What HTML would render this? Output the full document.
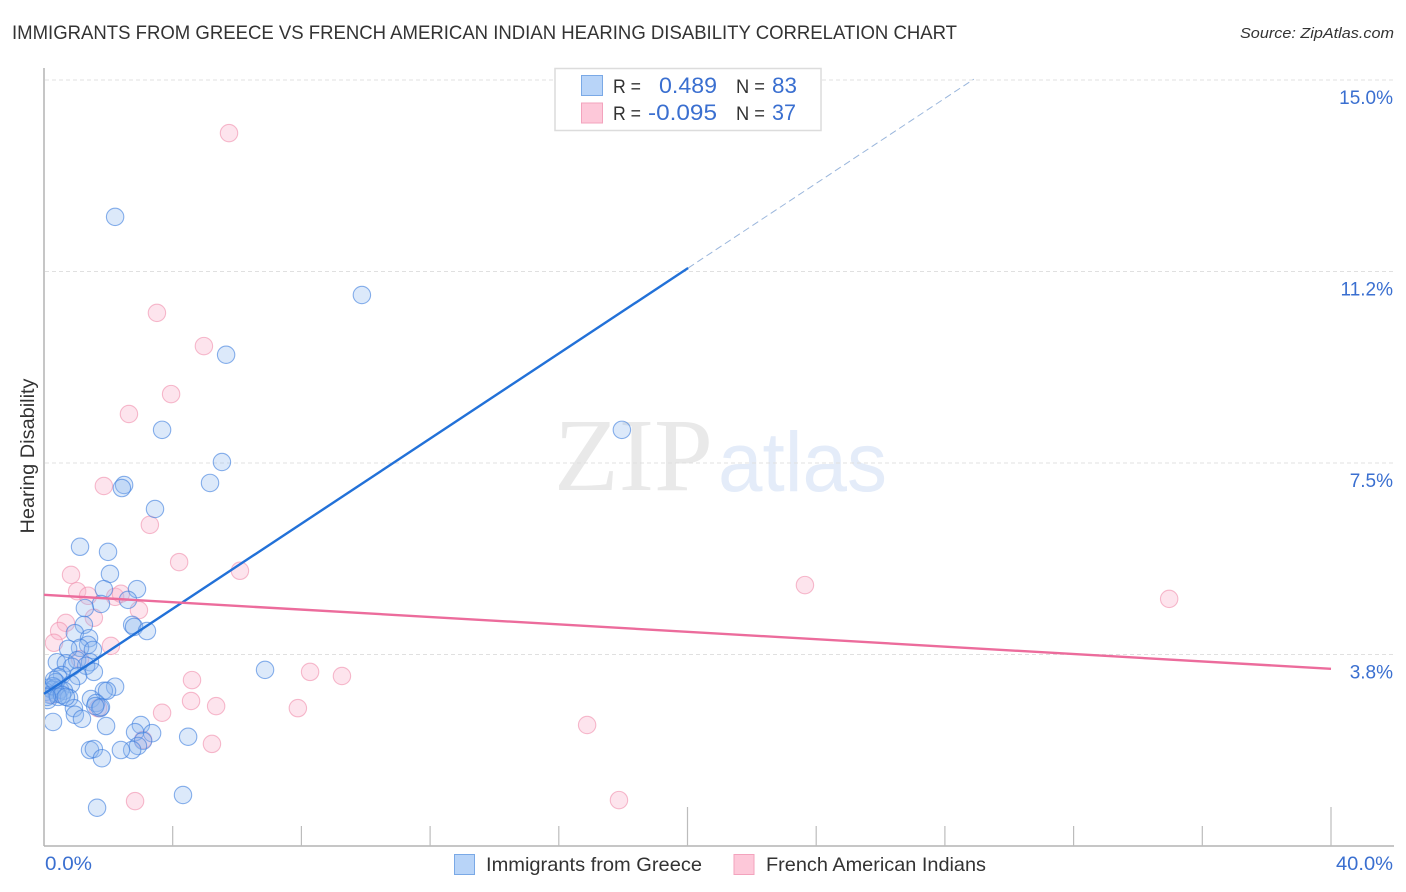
<!DOCTYPE html>
<html lang="en">
<head>
<meta charset="utf-8">
<title>Immigrants from Greece vs French American Indian Hearing Disability Correlation Chart</title>
<style>
html,body{margin:0;padding:0;background:#fff;width:1406px;height:892px;overflow:hidden}
svg{display:block;font-family:"Liberation Sans",sans-serif}
</style>
</head>
<body>
<svg id="chart" width="1406" height="892" viewBox="0 0 1406 892" xmlns="http://www.w3.org/2000/svg">
  <defs>
    <clipPath id="plot-clip"><rect x="45" y="60" width="1349" height="786"/></clipPath>
  </defs>
  <text x="12" y="39" font-size="19.5" fill="#333" textLength="945" lengthAdjust="spacingAndGlyphs">IMMIGRANTS FROM GREECE VS FRENCH AMERICAN INDIAN HEARING DISABILITY CORRELATION CHART</text>
  <text x="1394" y="38" font-size="15" font-style="italic" fill="#333" text-anchor="end" textLength="154" lengthAdjust="spacingAndGlyphs">Source: ZipAtlas.com</text>

  <g>
    <text x="554" y="490" font-family="'Liberation Serif',serif" font-size="104" fill="#e9e9e9" textLength="159" lengthAdjust="spacingAndGlyphs">ZIP</text>
    <text x="718" y="491" font-size="84" fill="#e4ecf9" textLength="169" lengthAdjust="spacingAndGlyphs">atlas</text>
  </g>

  <g id="grid"></g>
  <g id="axes">
    <line x1="44" y1="68" x2="44" y2="846" stroke="#b4b4b4" stroke-width="1.5"/>
    <line x1="44" y1="846" x2="1394" y2="846" stroke="#b4b4b4" stroke-width="1.5"/>
  </g>
  <g id="xticks"></g>
  <g id="ylabels"></g>
  <g id="xlabels"></g>
  <text transform="translate(34,456) rotate(-90)" font-size="19" fill="#333" text-anchor="middle" textLength="155" lengthAdjust="spacingAndGlyphs">Hearing Disability</text>

  <g id="marks" clip-path="url(#plot-clip)"></g>
  <g id="trends"></g>

  <g>
    <rect x="555" y="68.500" width="266" height="62" fill="#fff" stroke="#dcdcdc" stroke-width="1.500"/>
    <rect x="581.500" y="75.500" width="21" height="20" fill="#b8d4f8" stroke="#7aa9e6"/>
    <rect x="581.500" y="103" width="21" height="20" fill="#fdc8d9" stroke="#f3a3bd"/>
    <text x="613" y="93" font-size="19.500" fill="#333" textLength="28" lengthAdjust="spacingAndGlyphs">R =</text>
    <text x="659" y="93" font-size="22" fill="#3a6fd0" textLength="58" lengthAdjust="spacingAndGlyphs">0.489</text>
    <text x="736" y="93" font-size="19.500" fill="#333" textLength="29" lengthAdjust="spacingAndGlyphs">N =</text>
    <text x="772" y="93" font-size="22" fill="#3a6fd0" textLength="25" lengthAdjust="spacingAndGlyphs">83</text>
    <text x="613" y="120" font-size="19.500" fill="#333" textLength="28" lengthAdjust="spacingAndGlyphs">R =</text>
    <text x="648" y="120" font-size="22" fill="#3a6fd0" textLength="69" lengthAdjust="spacingAndGlyphs">-0.095</text>
    <text x="736" y="120" font-size="19.500" fill="#333" textLength="29" lengthAdjust="spacingAndGlyphs">N =</text>
    <text x="772" y="120" font-size="22" fill="#3a6fd0" textLength="24" lengthAdjust="spacingAndGlyphs">37</text>
  </g>

  <g>
    <g>
      <rect x="454.500" y="854.500" width="20" height="20" fill="#b8d4f8" stroke="#7aa9e6"/>
      <text x="486" y="871" font-size="19.500" fill="#333" textLength="216" lengthAdjust="spacingAndGlyphs">Immigrants from Greece</text>
    </g>
    <g>
      <rect x="734" y="854.500" width="20" height="20" fill="#fdc8d9" stroke="#f3a3bd"/>
      <text x="766" y="871" font-size="19.500" fill="#333" textLength="220" lengthAdjust="spacingAndGlyphs">French American Indians</text>
    </g>
  </g>
</svg>
<script>
const greeceX = [2.21,9.88,5.66,3.67,17.96,5.53,2.49,2.42,5.16,3.45,1.12,1.99,2.05,1.86,2.89,2.61,1.77,1.27,1.24,2.74,2.80,3.20,0.96,1.40,1.37,1.12,0.75,1.52,0.40,0.68,1.03,1.43,1.31,0.87,1.55,6.87,0.56,0.44,1.06,0.84,0.37,0.12,2.21,1.86,1.96,0.34,0.25,0.50,0.06,0.62,0.19,0.40,0.78,0.12,1.46,1.62,1.74,0.93,0.96,1.18,1.93,0.28,3.01,2.83,3.36,4.48,3.08,2.92,2.74,2.39,1.43,1.55,1.80,4.32,1.65,0.28,0.44,0.56,0.09,0.68,0.31,1.77,1.59];
const greeceY = [12.32,10.79,9.62,8.15,8.15,7.52,7.07,7.01,7.11,6.60,5.86,5.76,5.33,5.03,5.03,4.82,4.74,4.66,4.33,4.33,4.29,4.21,4.17,4.07,3.94,3.88,3.86,3.84,3.60,3.58,3.64,3.60,3.53,3.51,3.41,3.45,3.35,3.31,3.33,3.17,3.21,3.10,3.12,3.04,3.04,3.10,3.06,3.06,3.02,3.04,2.96,2.98,2.90,2.86,2.88,2.80,2.70,2.70,2.57,2.49,2.35,2.43,2.37,2.23,2.21,2.14,2.06,1.96,1.88,1.88,1.88,1.90,1.72,1.00,0.75,3.13,2.92,2.96,2.92,2.92,3.25,2.72,2.74];
const frenchX = [5.75,3.51,4.97,3.95,2.64,1.86,3.29,4.20,6.09,0.84,23.65,1.03,1.37,2.21,2.39,2.95,34.97,1.55,0.68,0.47,0.31,2.08,1.12,8.27,9.26,4.60,4.57,5.35,7.89,3.67,1.68,16.88,5.22,3.08,2.83,17.87,0.25];
const frenchY = [13.96,10.44,9.79,8.85,8.46,7.05,6.29,5.56,5.39,5.31,5.11,4.99,4.90,4.88,4.94,4.62,4.84,4.47,4.37,4.21,3.98,3.92,3.66,3.41,3.33,3.25,2.84,2.74,2.70,2.61,2.70,2.37,2.00,2.08,0.88,0.90,2.96];
const greeceTrend = [2.98, 0.4165];
const frenchTrend = [4.92, -0.03625];
const greeceSolidEnd = 20.02;
const greeceDashEnd = 28.9;
const frenchTrendEnd = 40;
const yTickValues = [15, 11.25, 7.5, 3.75];
const yTickLabels = ["15.0%", "11.2%", "7.5%", "3.8%"];
const xTickValues = [0, 4, 8, 12, 16, 20, 24, 28, 32, 36, 40];
const xEndLabels = ["0.0%", "40.0%"];

const NS = "http://www.w3.org/2000/svg";
function xScale(v){ return 44 + v * 32.175; }
function yScale(v){ return 80 + (15 - v) * 51.07; }
function make(parent, tag, attrs){
  const el = document.createElementNS(NS, tag);
  for (const k in attrs) el.setAttribute(k, attrs[k]);
  document.getElementById(parent).appendChild(el);
  return el;
}

yTickValues.forEach(function(v, i){
  const line = make("grid", "line", {x1: 45, x2: 1394, y1: yScale(v), y2: yScale(v), stroke: "#e0e0e0", "stroke-width": 1, "stroke-dasharray": "4 3"});
  
  
  const t = make("ylabels", "text", {x: 1393, y: yScale(v) + 24, "font-size": 19, fill: "#3a6fd0", "text-anchor": "end"});
  t.textContent = yTickLabels[i];
  
  
});

xTickValues.forEach(function(v){
  if (v === 0) return;
  const tall = (v === 20 || v === 40);
  const tick = make("xticks", "line", {x1: xScale(v), x2: xScale(v), y1: tall ? 807 : 826, y2: 846, stroke: "#bcbcbc", "stroke-width": 1.2});
  
  
});

const xl0 = make("xlabels", "text", {x: xScale(xTickValues[0]) + 1, y: 870, "font-size": 19, fill: "#3a6fd0", textLength: 47, lengthAdjust: "spacingAndGlyphs"});
xl0.textContent = xEndLabels[0];


const xl1 = make("xlabels", "text", {x: 1336, y: 870, "font-size": 19, fill: "#3a6fd0", textLength: 57, lengthAdjust: "spacingAndGlyphs"});
xl1.textContent = xEndLabels[1];



frenchX.forEach(function(v, i){
  const c = make("marks", "circle", {cx: xScale(v), cy: yScale(frenchY[i]), r: 8.7, fill: "rgba(250,180,205,0.36)", stroke: "rgba(240,145,175,0.62)", "stroke-width": 1.1});
  
  
});
greeceX.forEach(function(v, i){
  const c = make("marks", "circle", {cx: xScale(v), cy: yScale(greeceY[i]), r: 8.7, fill: "rgba(140,182,240,0.3)", stroke: "rgba(60,125,222,0.6)", "stroke-width": 1.1});
  
  
});

function trendY(tr, x){ return yScale(tr[0] + tr[1] * x); }
const solid = make("trends", "line", {x1: xScale(0), y1: trendY(greeceTrend, 0), x2: xScale(greeceSolidEnd), y2: trendY(greeceTrend, greeceSolidEnd), stroke: "#2271d8", "stroke-width": 2.4});


const dashed = make("trends", "line", {x1: xScale(greeceSolidEnd), y1: trendY(greeceTrend, greeceSolidEnd), x2: xScale(greeceDashEnd), y2: trendY(greeceTrend, greeceDashEnd), stroke: "#9ab6dc", "stroke-width": 1, "stroke-dasharray": "7 4"});


const pink = make("trends", "line", {x1: xScale(0), y1: trendY(frenchTrend, 0), x2: xScale(frenchTrendEnd), y2: trendY(frenchTrend, frenchTrendEnd), stroke: "#ec6c9c", "stroke-width": 2.4});


</script>
</body>
</html>
